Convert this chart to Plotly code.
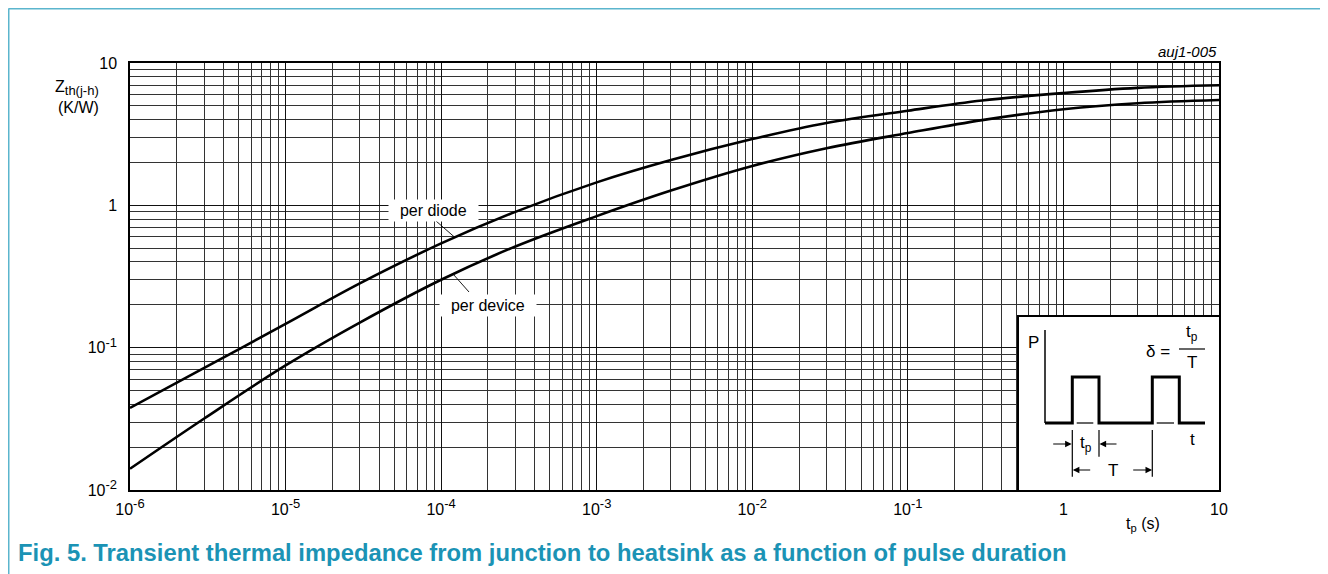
import numpy as np
import plotly.graph_objects as go

# ---------------- data ----------------
t_pulse = [1e-6, 3e-6, 1e-5, 3e-5, 1e-4, 3e-4, 1e-3, 3e-3, 1e-2, 3e-2, 1e-1, 0.3, 1, 3, 10]
z_per_diode = [0.0377, 0.072, 0.147, 0.283, 0.54, 0.90, 1.45, 2.08, 2.92, 3.79, 4.62, 5.45, 6.15, 6.69, 6.97]
z_per_device = [0.0141, 0.0318, 0.075, 0.150, 0.30, 0.514, 0.84, 1.27, 1.89, 2.52, 3.22, 3.97, 4.73, 5.22, 5.5]

x_tick_vals = [1e-6, 1e-5, 1e-4, 1e-3, 1e-2, 1e-1, 1, 10]
x_tick_exp = ["-6", "-5", "-4", "-3", "-2", "-1", None, None]
x_tick_plain = [None, None, None, None, None, None, "1", "10"]
y_tick_vals = [0.01, 0.1, 1, 10]
y_tick_exp = ["-2", "-1", None, None]
y_tick_plain = [None, None, "1", "10"]

# inset waveform (inset units)
axis_p_x = [26, 26]
axis_p_y = [160, 67]
wave_x = [26, 53.3, 53.3, 80, 80, 133.3, 133.3, 160.3, 160.3, 186]
wave_y = [67, 67, 113, 113, 67, 67, 113, 113, 67, 67]
gap_x = [57.7, 74.3, None, 137.7, 155]
gap_y = [67, 67, None, 67, 67]
dim_x = [53.3, 53.3, None, 80, 80, None, 133.3, 133.3, None, 160, 186]
dim_y = [60, 13.3, None, 60, 33.3, None, 60, 13.3, None, 141, 141]

# ---------------- geometry helpers ----------------
OFF = 8                      # page body margin of the html page
W, H = 1328 - OFF, 574 - OFF
L, R, T, B = 130, 1219, 63, 490  # plot area in page pixels
FONT = "Liberation Sans, Arial, sans-serif"
TEAL = "#1b93b5"
FRAME = "#5bb5cd"


def PX(x):
    return (x - L) / (R - L)


def PY(y):
    return (B - y) / (B - T)


def data_to_paper(t, z):
    return (np.log10(t) + 6) / 7.0, (np.log10(z) + 2) / 3.0


def curve_at(px_x, ts, zs):
    lt = (px_x - L) / (R - L) * 7 - 6
    lz = np.interp(lt, np.log10(ts), np.log10(zs))
    return data_to_paper(10 ** lt, 10 ** lz)


def tick_labels(exps, plains):
    out = []
    for e, p in zip(exps, plains):
        if e is None:
            out.append(p)
        else:
            out.append("10<sup><span style='font-size:13px'>%s</span></sup>" % e)
    return out


minor_x = [m * 10.0 ** e for e in range(-6, 1) for m in range(2, 10)]
minor_y = [m * 10.0 ** e for e in range(-2, 1) for m in range(2, 10)]

fig = go.Figure()

fig.add_trace(go.Scatter(x=t_pulse, y=z_per_diode, mode="lines", name="per diode",
                         line=dict(color="black", width=2.6, shape="spline", smoothing=1.0),
                         showlegend=False, hoverinfo="skip"))
fig.add_trace(go.Scatter(x=t_pulse, y=z_per_device, mode="lines", name="per device",
                         line=dict(color="black", width=2.6, shape="spline", smoothing=1.0),
                         showlegend=False, hoverinfo="skip"))

# inset traces
fig.add_trace(go.Scatter(x=axis_p_x, y=axis_p_y, xaxis="x2", yaxis="y2", mode="lines",
                         line=dict(color="black", width=1.5), showlegend=False, hoverinfo="skip"))
fig.add_trace(go.Scatter(x=wave_x, y=wave_y, xaxis="x2", yaxis="y2", mode="lines",
                         line=dict(color="black", width=3), showlegend=False, hoverinfo="skip"))
fig.add_trace(go.Scatter(x=gap_x, y=gap_y, xaxis="x2", yaxis="y2", mode="lines",
                         line=dict(color="black", width=1.2), showlegend=False, hoverinfo="skip"))
fig.add_trace(go.Scatter(x=dim_x, y=dim_y, xaxis="x2", yaxis="y2", mode="lines",
                         line=dict(color="black", width=1.2), showlegend=False, hoverinfo="skip"))

axis_common = dict(showline=True, mirror=True, linecolor="black", linewidth=1.5,
                   showgrid=True, gridcolor="#111", gridwidth=1, zeroline=False,
                   ticks="", tickfont=dict(family=FONT, size=16, color="black"),
                   tickmode="array")

fig.update_layout(
    width=W, height=H, autosize=False,
    margin=dict(l=L - OFF, r=W - (R - OFF), t=T - OFF, b=H - (B - OFF), pad=0),
    paper_bgcolor="white", plot_bgcolor="white",
    font=dict(family=FONT, size=16, color="black"),
    xaxis=dict(type="log", range=[-6, 1], tickvals=x_tick_vals,
               ticktext=tick_labels(x_tick_exp, x_tick_plain),
               ticklabelstandoff=4,
               minor=dict(tickmode="array", tickvals=minor_x, showgrid=True,
                          gridcolor="#333", gridwidth=1, ticks=""),
               **axis_common),
    yaxis=dict(type="log", range=[-2, 1], tickvals=y_tick_vals,
               ticktext=tick_labels(y_tick_exp, y_tick_plain),
               ticklabelstandoff=8,
               minor=dict(tickmode="array", tickvals=minor_y, showgrid=True,
                          gridcolor="#333", gridwidth=1, ticks=""),
               **axis_common),
    xaxis2=dict(domain=[PX(1019), 1.0], range=[0, 200], anchor="y2", showgrid=False,
                zeroline=False, showticklabels=False, ticks="", showline=True, mirror=True,
                linecolor="black", linewidth=1.5, fixedrange=True),
    yaxis2=dict(domain=[0, PY(317)], range=[0, 173], anchor="x2", showgrid=False,
                zeroline=False, showticklabels=False, ticks="", showline=True, mirror=True,
                linecolor="black", linewidth=1.5, fixedrange=True),
)

ann = []
# axis titles
ann.append(dict(text="Z<sub><span style='font-size:13px'>th(j-h)</span></sub>", x=PX(101), y=PY(88),
                xref="paper", yref="paper", xanchor="right", yanchor="middle", showarrow=False,
                font=dict(size=16)))
ann.append(dict(text="(K/W)", x=PX(101), y=PY(107), xref="paper", yref="paper",
                xanchor="right", yanchor="middle", showarrow=False, font=dict(size=16)))
ann.append(dict(text="t<sub>p</sub> (s)", x=PX(1143), y=PY(524), xref="paper", yref="paper",
                xanchor="center", yanchor="middle", showarrow=False, font=dict(size=16)))
ann.append(dict(text="<i>auj1-005</i>", x=PX(1219), y=PY(52), xref="paper", yref="paper",
                xanchor="right", yanchor="middle", showarrow=False, font=dict(size=15)))
ann.append(dict(text="<b>Fig. 5. Transient thermal impedance from junction to heatsink as a function of pulse duration</b>",
                x=PX(16), y=PY(552), xref="paper", yref="paper", xanchor="left", yanchor="middle",
                showarrow=False, font=dict(size=23.8, color=TEAL)))
# curve labels
ann.append(dict(text="&nbsp;&nbsp;per diode&nbsp;&nbsp;", x=PX(433), y=PY(210.5),
                xref="paper", yref="paper", xanchor="center", yanchor="middle", showarrow=False,
                bgcolor="white", borderpad=2, font=dict(size=16)))
ann.append(dict(text="&nbsp;&nbsp;per device&nbsp;&nbsp;", x=PX(488), y=PY(305.5),
                xref="paper", yref="paper", xanchor="center", yanchor="middle", showarrow=False,
                bgcolor="white", borderpad=2, font=dict(size=16)))


# inset labels
def inset_text(txt, x, y, size=17):
    return dict(text=txt, x=x, y=y, xref="x2", yref="y2", xanchor="center", yanchor="middle",
                showarrow=False, font=dict(size=size))


ann += [
    inset_text("P", 14.3, 147.3),
    inset_text("δ =", 139, 138.5),
    inset_text("t<sub>p</sub>", 172.7, 157.5),
    inset_text("T", 172.7, 128),
    inset_text("t", 173.3, 51),
    inset_text("t<sub>p</sub>", 66.5, 46),
    inset_text("T", 93.7, 20),
]


def inset_arrow(x_head, x_tail, y):
    return dict(text="", x=x_head, y=y, ax=x_tail, ay=y, xref="x2", yref="y2",
                axref="x2", ayref="y2", showarrow=True, arrowhead=2, arrowsize=1.1,
                arrowwidth=1.2, arrowcolor="black", standoff=0, startstandoff=0)


ann += [inset_arrow(52.7, 32.7, 46), inset_arrow(80.5, 99, 46),
        inset_arrow(53.8, 72.7, 20), inset_arrow(133.1, 112.7, 20)]

fig.update_layout(annotations=ann)

# leader lines from labels to curves
d_end = curve_at(455, t_pulse, z_per_diode)
v_end = curve_at(453.3, t_pulse, z_per_device)
shapes = [
    dict(type="line", xref="paper", yref="paper", x0=PX(436), y0=PY(221), x1=d_end[0], y1=d_end[1],
         line=dict(color="black", width=0.9)),
    dict(type="line", xref="paper", yref="paper", x0=PX(469), y0=PY(292), x1=v_end[0], y1=v_end[1],
         line=dict(color="black", width=0.9)),
    # page frame
    dict(type="line", xref="paper", yref="paper", x0=PX(8.5), y0=PY(8.5), x1=PX(1326), y1=PY(8.5),
         line=dict(color=FRAME, width=2)),
    dict(type="line", xref="paper", yref="paper", x0=PX(8.5), y0=PY(8.5), x1=PX(8.5), y1=PY(590),
         line=dict(color=FRAME, width=2)),
    dict(type="line", xref="paper", yref="paper", x0=PX(1326), y0=PY(8.5), x1=PX(1326), y1=PY(590),
         line=dict(color=FRAME, width=2)),
]
fig.update_layout(shapes=shapes)

fig.write_html("out.html")
